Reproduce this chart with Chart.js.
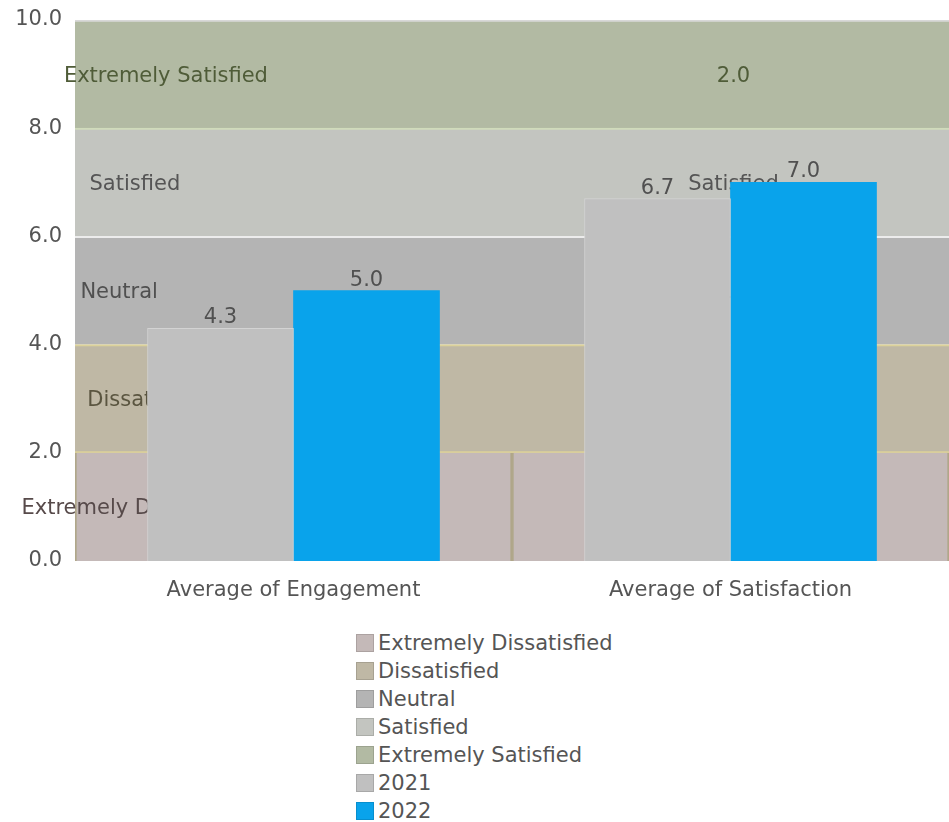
<!DOCTYPE html>
<html>
<head>
<meta charset="utf-8">
<script src="https://cdn.jsdelivr.net/npm/chart.js@4/dist/chart.umd.min.js"></script>
<style>
  body { margin: 0; background: #fff; font-family: "DejaVu Sans", sans-serif; }
  #wrap { position: relative; width: 949px; height: 615px; }
  #legenda { margin-top: 14px; padding-left: 356px; }
  .item { display: flex; align-items: center; height: 28px; font-size: 21px; color: #555; }
  .caixa { width: 16px; height: 16px; margin-right: 4px; border: 1px solid rgba(0,0,0,0.12); }
</style>
</head>
<body>
<div id="wrap"><canvas id="graficoSatisfacao"></canvas></div>
<div id="legenda"></div>
<script>
// categorias e valores
const categorias = ['Average of Engagement', 'Average of Satisfaction']
const faixas = ['Extremely Dissatisfied', 'Dissatisfied', 'Neutral', 'Satisfied', 'Extremely Satisfied']
const faixaValores = [[2, 2], [2, 2], [2, 2], [2, 2], [2, 2]]
const valores2021 = [4.3, 6.7]
const valores2022 = [5.0, 7.0]
const yTicks = [0, 2, 4, 6, 8, 10]

// o que aparece escrito dentro de cada faixa, por categoria
const rotuloFaixa = [
  ['name', 'name', 'name', 'name', 'name'],
  ['name', 'name', 'name', 'name', 'value']
]

const coresFaixa = ['#c4b9b8', '#bfb8a5', '#b4b4b4', '#c3c5c0', '#b2baa3']
const bordasFaixa = ['#b0a78a', '#dcd29a', '#ececec', '#d0dbbb', '#d8d8d8']
const larguraBorda = [
  { top: 0, bottom: 0, left: 2, right: 2 },
  { top: 2, bottom: 2, left: 0, right: 0 },
  { top: 2, bottom: 0, left: 0, right: 0 },
  { top: 2, bottom: 0, left: 0, right: 0 },
  { top: 2, bottom: 0, left: 0, right: 0 }
]
const textoFaixa = ['#574a4a', '#5a5540', '#505050', '#555555', '#4f5c38']
// posicao horizontal do nome na primeira categoria (fracao da largura)
const posNome = [0.146, 0.167, 0.101, 0.137, 0.208]

var datasets = faixas.map((nome, i) => ({
  label: nome,
  data: faixaValores[i],
  backgroundColor: coresFaixa[i],
  borderColor: bordasFaixa[i],
  borderWidth: larguraBorda[i],
  borderSkipped: false,
  xAxisID: 'x2',
  stack: 'faixas',
  grouped: false,
  order: 1,
  categoryPercentage: 1,
  barPercentage: 1
}))

datasets.push({
  label: '2021',
  data: valores2021,
  backgroundColor: '#c0c0c0',
  borderColor: '#d3d3d3',
  borderWidth: 1,
  borderSkipped: 'bottom',
  xAxisID: 'x',
  stack: 's2021',
  order: 0,
  barThickness: 146
})
datasets.push({
  label: '2022',
  data: valores2022,
  backgroundColor: '#09a3eb',
  borderWidth: 0,
  xAxisID: 'x',
  stack: 's2022',
  order: 0,
  barThickness: 146
})

// nomes das faixas, desenhados antes das barras 2021/2022
const rotulosFaixas = {
  id: 'rotulosFaixas',
  afterDatasetDraw(chart, args) {
    if (args.index !== 0) return
    var ctx = chart.ctx
    ctx.save()
    ctx.font = '21px "DejaVu Sans"'
    ctx.textAlign = 'center'
    ctx.textBaseline = 'middle'
    faixas.forEach((nome, i) => {
      var meta = chart.getDatasetMeta(i)
      meta.data.forEach((bar, j) => {
        var p = bar.getProps(['x', 'y', 'base', 'width'], true)
        var txt = rotuloFaixa[j][i] == 'value' ? faixaValores[i][j].toFixed(1) : nome
        var x = j == 0 ? p.x - p.width / 2 + p.width * posNome[i] : p.x + 3
        ctx.fillStyle = textoFaixa[i]
        ctx.fillText(txt, x, (p.y + p.base) / 2 + 2)
      })
    })
    ctx.restore()
  },
  afterDatasetsDraw(chart) {
    var ctx = chart.ctx
    ctx.save()
    ctx.font = '21px "DejaVu Sans"'
    ctx.textAlign = 'center'
    ctx.textBaseline = 'alphabetic'
    ctx.fillStyle = '#505050'
    ;[5, 6].forEach(i => {
      var ds = chart.data.datasets[i]
      chart.getDatasetMeta(i).data.forEach((bar, j) => {
        ctx.fillText(ds.data[j].toFixed(1), bar.x, bar.y - 5)
      })
    })
    ctx.restore()
  }
}

plots = document.getElementById('graficoSatisfacao')

var grafico = new Chart(plots, {
  type: 'bar',
  data: { labels: categorias, datasets: datasets },
  options: {
    responsive: true,
    maintainAspectRatio: false,
    animation: false,
    layout: { padding: { top: 20, right: 0, bottom: 0, left: 0 } },
    plugins: {
      legend: { display: false },
      tooltip: { enabled: false }
    },
    scales: {
      x: {
        offset: true,
        grid: { display: false, drawTicks: false },
        border: { display: false },
        ticks: { color: '#555', font: { family: 'DejaVu Sans', size: 21 }, padding: 17 },
        afterFit: s => { s.height = 54 }
      },
      x2: {
        type: 'category',
        display: false,
        offset: true,
        stacked: true
      },
      y: {
        stacked: true,
        min: 0,
        max: 10,
        grid: { display: false, drawTicks: false },
        border: { display: false },
        afterBuildTicks: s => { s.ticks = yTicks.map(v => ({ value: v })) },
        ticks: {
          color: '#555',
          font: { family: 'DejaVu Sans', size: 21 },
          padding: 13,
          callback: v => v.toFixed(1)
        },
        afterFit: s => {
          s.width = 75
          s.paddingTop = 0
          s.paddingBottom = 0
        }
      }
    }
  },
  plugins: [rotulosFaixas]
})

// legenda em coluna
var itens = Chart.defaults.plugins.legend.labels.generateLabels(grafico)
  .sort((a, b) => a.datasetIndex - b.datasetIndex)
var legenda = document.getElementById('legenda')
itens.forEach(it => {
  var linha = document.createElement('div')
  linha.className = 'item'
  var caixa = document.createElement('span')
  caixa.className = 'caixa'
  caixa.style.background = it.fillStyle
  linha.appendChild(caixa)
  linha.appendChild(document.createTextNode(it.text))
  legenda.appendChild(linha)
})
</script>
</body>
</html>
